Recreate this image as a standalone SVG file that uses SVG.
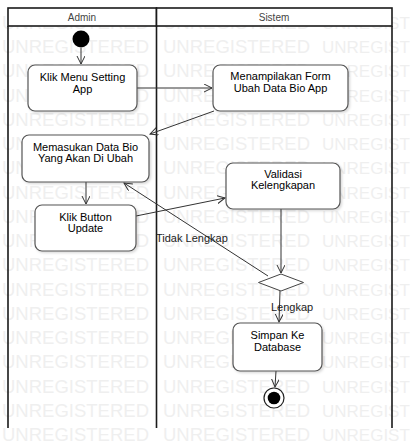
<svg xmlns="http://www.w3.org/2000/svg" width="413" height="445" viewBox="0 0 413 445">
  <defs>
    <style>
      .wm { font-family: "Liberation Sans", Arial, sans-serif; font-size: 18.5px; fill: #efefef; }
      .wm .e { font-size: 17px; }
      .lane { fill: none; stroke: #1a1a1a; stroke-width: 1.6; }
      .hdr { fill: #ffffff; stroke: #1a1a1a; stroke-width: 1.6; }
      .htxt { font-family: "Liberation Sans", Arial, sans-serif; font-size: 10px; fill: #444; text-anchor: middle; }
      .act { fill: #ffffff; stroke: #555555; stroke-width: 1.2; filter: url(#sh); }
      .t { font-family: "Liberation Sans", Arial, sans-serif; font-size: 11px; fill: #000; text-anchor: middle; }
      .lbl { font-family: "Liberation Sans", Arial, sans-serif; font-size: 11px; fill: #222; }
      .edge { fill: none; stroke: #333; stroke-width: 1; marker-end: url(#arr); }
    </style>
    <marker id="arr" markerUnits="userSpaceOnUse" markerWidth="10" markerHeight="10" refX="8" refY="4" orient="auto">
      <path d="M0,0 L8,4 L0,8" fill="none" stroke="#333" stroke-width="1"/>
    </marker>
    <filter id="sh" x="-10%" y="-10%" width="130%" height="130%">
      <feDropShadow dx="1.5" dy="1.5" stdDeviation="1.2" flood-color="#000" flood-opacity="0.15"/>
    </filter>
  </defs>

  <rect x="0" y="0" width="413" height="445" fill="#ffffff"/>

  <g id="watermark">
    <text class="wm" y="28.8"><tspan x="2">UNREGISTERED</tspan><tspan x="163">UNREGISTERED</tspan><tspan class="e" x="322">UNREGIST</tspan></text>
    <text class="wm" y="53"><tspan x="2">UNREGISTERED</tspan><tspan x="163">UNREGISTERED</tspan><tspan class="e" x="322">UNREGIST</tspan></text>
    <text class="wm" y="77.3"><tspan x="2">UNREGISTERED</tspan><tspan x="163">UNREGISTERED</tspan><tspan class="e" x="322">UNREGIST</tspan></text>
    <text class="wm" y="101.5"><tspan x="2">UNREGISTERED</tspan><tspan x="163">UNREGISTERED</tspan><tspan class="e" x="322">UNREGIST</tspan></text>
    <text class="wm" y="125.8"><tspan x="2">UNREGISTERED</tspan><tspan x="163">UNREGISTERED</tspan><tspan class="e" x="322">UNREGIST</tspan></text>
    <text class="wm" y="150"><tspan x="2">UNREGISTERED</tspan><tspan x="163">UNREGISTERED</tspan><tspan class="e" x="322">UNREGIST</tspan></text>
    <text class="wm" y="174.3"><tspan x="2">UNREGISTERED</tspan><tspan x="163">UNREGISTERED</tspan><tspan class="e" x="322">UNREGIST</tspan></text>
    <text class="wm" y="198.5"><tspan x="2">UNREGISTERED</tspan><tspan x="163">UNREGISTERED</tspan><tspan class="e" x="322">UNREGIST</tspan></text>
    <text class="wm" y="222.8"><tspan x="2">UNREGISTERED</tspan><tspan x="163">UNREGISTERED</tspan><tspan class="e" x="322">UNREGIST</tspan></text>
    <text class="wm" y="247"><tspan x="2">UNREGISTERED</tspan><tspan x="163">UNREGISTERED</tspan><tspan class="e" x="322">UNREGIST</tspan></text>
    <text class="wm" y="271.3"><tspan x="2">UNREGISTERED</tspan><tspan x="163">UNREGISTERED</tspan><tspan class="e" x="322">UNREGIST</tspan></text>
    <text class="wm" y="295.5"><tspan x="2">UNREGISTERED</tspan><tspan x="163">UNREGISTERED</tspan><tspan class="e" x="322">UNREGIST</tspan></text>
    <text class="wm" y="319.8"><tspan x="2">UNREGISTERED</tspan><tspan x="163">UNREGISTERED</tspan><tspan class="e" x="322">UNREGIST</tspan></text>
    <text class="wm" y="344"><tspan x="2">UNREGISTERED</tspan><tspan x="163">UNREGISTERED</tspan><tspan class="e" x="322">UNREGIST</tspan></text>
    <text class="wm" y="368.3"><tspan x="2">UNREGISTERED</tspan><tspan x="163">UNREGISTERED</tspan><tspan class="e" x="322">UNREGIST</tspan></text>
    <text class="wm" y="392.5"><tspan x="2">UNREGISTERED</tspan><tspan x="163">UNREGISTERED</tspan><tspan class="e" x="322">UNREGIST</tspan></text>
    <text class="wm" y="416.8"><tspan x="2">UNREGISTERED</tspan><tspan x="163">UNREGISTERED</tspan><tspan class="e" x="322">UNREGIST</tspan></text>
    <text class="wm" y="441"><tspan x="2">UNREGISTERED</tspan><tspan x="163">UNREGISTERED</tspan><tspan class="e" x="322">UNREGIST</tspan></text>
  </g>

  <g id="swimlanes">
    <rect class="hdr" x="8" y="8" width="148.5" height="18"/>
    <rect class="hdr" x="156.5" y="8" width="235.5" height="18"/>
    <text class="htxt" x="82" y="21">Admin</text>
    <text class="htxt" x="274" y="21">Sistem</text>
    <path class="lane" d="M8,26 V428 M156.5,26 V428 M392,26 V428"/>
  </g>

  <g id="connectors">
    <line class="edge" x1="81" y1="48" x2="81" y2="64"/>
    <line class="edge" x1="137" y1="88" x2="212" y2="88"/>
    <line class="edge" x1="214" y1="111" x2="150" y2="134"/>
    <line class="edge" x1="86" y1="182" x2="86" y2="204"/>
    <line class="edge" x1="136" y1="216" x2="225" y2="198"/>
    <line class="edge" x1="281" y1="209" x2="281" y2="273"/>
    <line class="edge" x1="268" y1="276" x2="124" y2="183"/>
    <line class="edge" x1="280" y1="291" x2="279" y2="322"/>
    <line class="edge" x1="276" y1="371" x2="275" y2="387"/>
    <text class="lbl" x="156" y="242">Tidak Lengkap</text>
    <text class="lbl" x="271" y="311">Lengkap</text>
  </g>

  <g id="start">
    <circle cx="81" cy="39" r="8.5" fill="#000"/>
  </g>

  <g id="klik-menu">
    <rect class="act" x="28" y="65" width="109" height="46" rx="7"/>
    <text class="t" x="82.5" y="81">Klik Menu Setting</text>
    <text class="t" x="82.5" y="93">App</text>
  </g>

  <g id="menampilakan-form">
    <rect class="act" x="213" y="65" width="135" height="46" rx="7"/>
    <text class="t" x="280.5" y="80">Menampilakan Form</text>
    <text class="t" x="280.5" y="92">Ubah Data Bio App</text>
  </g>

  <g id="memasukan-data">
    <rect class="act" x="22" y="135" width="127" height="47" rx="7"/>
    <text class="t" x="85.5" y="151">Memasukan Data Bio</text>
    <text class="t" x="85.5" y="162">Yang Akan Di Ubah</text>
  </g>

  <g id="klik-button">
    <rect class="act" x="35" y="205" width="101" height="46" rx="7"/>
    <text class="t" x="85.5" y="221">Klik Button</text>
    <text class="t" x="85.5" y="232">Update</text>
  </g>

  <g id="validasi">
    <rect class="act" x="226" y="163" width="114" height="46" rx="7"/>
    <text class="t" x="283" y="178">Validasi</text>
    <text class="t" x="283" y="189">Kelengkapan</text>
  </g>

  <g id="decision">
    <polygon points="281,274 303.5,282.5 281,291 258.5,282.5" fill="#fff" stroke="#444" stroke-width="1"/>
  </g>

  <g id="simpan">
    <rect class="act" x="233" y="323" width="89" height="48" rx="7"/>
    <text class="t" x="277.5" y="339">Simpan Ke</text>
    <text class="t" x="277.5" y="351">Database</text>
  </g>

  <g id="end">
    <circle cx="274" cy="398" r="10" fill="#fff" stroke="#222" stroke-width="1.2"/>
    <circle cx="274" cy="398" r="6.3" fill="#000"/>
  </g>
</svg>
